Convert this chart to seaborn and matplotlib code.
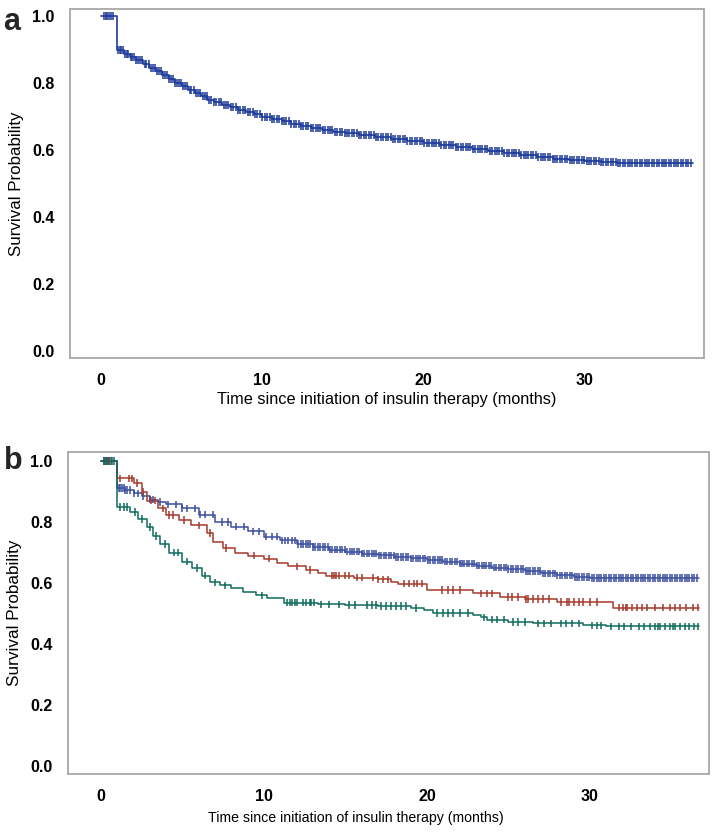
"""
Kaplan-Meier style survival curves after insulin initiation (panels a and b).
"""
import numpy as np
import pandas as pd
import matplotlib
matplotlib.use('Agg')
import matplotlib.pyplot as plt
from matplotlib import font_manager
import seaborn as sns

# Panel a: whole cohort (step times in months, survival after each step)
time_a = [0.0, 1.0, 1.4, 1.8, 2.2, 2.6, 3.0, 3.4, 3.8, 4.2, 4.6, 5.0, 5.4, 5.8, 6.2,
          6.6, 7.0, 7.5, 8.0, 8.5, 9.0, 9.5, 10.0, 10.6, 11.2, 11.8, 12.4, 13.0,
          13.7, 14.4, 15.1, 16.0, 17.0, 18.0, 19.0, 20.0, 21.0, 22.0, 23.0, 24.0,
          25.0, 26.0, 27.0, 28.0, 29.0, 30.0, 31.0, 32.0, 36.7]
surv_a = [1.000, 0.898, 0.888, 0.878, 0.868, 0.858, 0.846, 0.835, 0.824, 0.812, 0.800,
          0.790, 0.780, 0.770, 0.760, 0.750, 0.742, 0.735, 0.728, 0.720, 0.713, 0.706,
          0.700, 0.693, 0.686, 0.679, 0.672, 0.666, 0.660, 0.655, 0.650, 0.645, 0.639,
          0.633, 0.627, 0.621, 0.615, 0.610, 0.604, 0.597, 0.590, 0.584, 0.579, 0.574,
          0.570, 0.566, 0.563, 0.560, 0.560]
cens_a = [0.2, 0.3, 0.4, 0.5, 0.6, 0.75, 1.05, 1.15, 1.25, 1.35, 1.5, 1.6, 1.7, 1.85,
          1.95, 2.05, 2.2, 2.3, 2.45, 2.55, 2.7, 2.8, 2.95, 3.1, 3.2, 3.35, 3.45, 3.6,
          3.7, 3.85, 3.95, 4.1, 4.2, 4.35, 4.45, 4.6, 4.7, 4.85, 4.95, 5.1, 5.2, 5.35,
          5.5, 5.6, 5.75, 5.9, 6.0, 6.15, 6.3, 6.45, 6.55, 6.7, 6.85, 7.0, 7.15, 7.3,
          7.45, 7.6, 7.75, 7.9, 8.05, 8.2, 8.35, 8.5, 8.65, 8.8, 8.95, 9.1, 9.25, 9.4,
          9.55, 9.7, 9.85, 10.0, 10.15, 10.3, 10.45, 10.6, 10.75, 10.9, 11.05, 11.2,
          11.35, 11.5, 11.65, 11.8, 11.95, 12.1, 12.25, 12.4, 12.55, 12.7, 12.85, 13.0,
          13.15, 13.3, 13.45, 13.6, 13.75, 13.9, 14.05, 14.2, 14.35, 14.5, 14.65, 14.8,
          14.95, 15.1, 15.25, 15.4, 15.55, 15.7, 15.85, 16.0, 16.15, 16.3, 16.45, 16.6,
          16.75, 16.9, 17.05, 17.2, 17.35, 17.5, 17.65, 17.8, 17.95, 18.1, 18.25, 18.4,
          18.55, 18.7, 18.85, 19.0, 19.15, 19.3, 19.45, 19.6, 19.75, 19.9, 20.05, 20.2,
          20.35, 20.5, 20.65, 20.8, 20.95, 21.1, 21.25, 21.4, 21.55, 21.7, 21.85, 22.0,
          22.15, 22.3, 22.45, 22.6, 22.75, 22.9, 23.05, 23.2, 23.35, 23.5, 23.65, 23.8,
          23.95, 24.1, 24.25, 24.4, 24.55, 24.7, 24.85, 25.0, 25.15, 25.3, 25.45, 25.6,
          25.75, 25.9, 26.05, 26.2, 26.35, 26.5, 26.65, 26.8, 26.95, 27.1, 27.25, 27.4,
          27.55, 27.7, 27.85, 28.0, 28.15, 28.3, 28.45, 28.6, 28.75, 28.9, 29.05, 29.2,
          29.35, 29.5, 29.65, 29.8, 29.95, 30.1, 30.25, 30.4, 30.55, 30.7, 30.85, 31.0,
          31.15, 31.3, 31.45, 31.6, 31.75, 31.9, 32.05, 32.2, 32.35, 32.5, 32.65, 32.8,
          32.95, 33.1, 33.25, 33.4, 33.55, 33.7, 33.85, 34.0, 34.15, 34.3, 34.45, 34.6,
          34.75, 34.9, 35.05, 35.2, 35.35, 35.5, 35.65, 35.8, 35.95, 36.1, 36.25, 36.4,
          36.55]

# Panel b: three groups
time_b1 = [0.0, 1.0, 1.5, 2.0, 2.5, 3.0, 3.5, 4.0, 5.0, 6.0, 7.0, 8.0, 9.0, 10.0, 11.0,
           12.0, 13.0, 14.0, 15.0, 16.0, 17.0, 18.0, 19.0, 20.0, 21.0, 22.0, 23.0,
           24.0, 25.0, 26.0, 27.0, 28.0, 29.0, 30.0, 36.7]
surv_b1 = [1.000, 0.912, 0.905, 0.895, 0.885, 0.874, 0.866, 0.858, 0.845, 0.825, 0.800,
           0.785, 0.770, 0.752, 0.740, 0.728, 0.718, 0.710, 0.703, 0.697, 0.691, 0.686,
           0.681, 0.676, 0.670, 0.664, 0.657, 0.651, 0.646, 0.640, 0.632, 0.626, 0.620,
           0.617, 0.617]
cens_b1 = [0.2, 0.35, 0.5, 0.7, 1.1, 1.2, 1.3, 1.4, 1.5, 1.6, 1.8, 2.0, 2.3, 2.6, 3.0,
           3.2, 3.6, 4.1, 4.6, 5.0, 5.3, 5.8, 6.1, 6.4, 6.9, 7.4, 7.8, 8.3, 8.8, 9.3,
           9.7, 10.1, 10.5, 10.8, 11.1, 11.3, 11.5, 11.7, 11.9, 12.1, 12.25, 12.4,
           12.55, 12.7, 12.85, 13.0, 13.15, 13.3, 13.45, 13.6, 13.75, 13.9, 14.05, 14.2,
           14.35, 14.5, 14.65, 14.8, 14.95, 15.1, 15.25, 15.4, 15.55, 15.7, 15.85, 16.0,
           16.15, 16.3, 16.45, 16.6, 16.75, 16.9, 17.05, 17.2, 17.35, 17.5, 17.65, 17.8,
           17.95, 18.1, 18.25, 18.4, 18.55, 18.7, 18.85, 19.0, 19.15, 19.3, 19.45, 19.6,
           19.75, 19.9, 20.05, 20.2, 20.35, 20.5, 20.65, 20.8, 20.95, 21.1, 21.25, 21.4,
           21.55, 21.7, 21.85, 22.0, 22.15, 22.3, 22.45, 22.6, 22.75, 22.9, 23.05, 23.2,
           23.35, 23.5, 23.65, 23.8, 23.95, 24.1, 24.25, 24.4, 24.55, 24.7, 24.85, 25.0,
           25.15, 25.3, 25.45, 25.6, 25.75, 25.9, 26.05, 26.2, 26.35, 26.5, 26.65, 26.8,
           26.95, 27.1, 27.25, 27.4, 27.55, 27.7, 27.85, 28.0, 28.15, 28.3, 28.45, 28.6,
           28.75, 28.9, 29.05, 29.2, 29.35, 29.5, 29.65, 29.8, 29.95, 30.1, 30.25, 30.4,
           30.55, 30.7, 30.85, 31.0, 31.15, 31.3, 31.45, 31.6, 31.75, 31.9, 32.05, 32.2,
           32.35, 32.5, 32.65, 32.8, 32.95, 33.1, 33.25, 33.4, 33.55, 33.7, 33.85, 34.0,
           34.15, 34.3, 34.45, 34.6, 34.75, 34.9, 35.05, 35.2, 35.35, 35.5, 35.65, 35.8,
           35.95, 36.1, 36.25, 36.4, 36.55]

time_b2 = [0.0, 1.0, 2.0, 2.5, 2.8, 3.5, 4.0, 4.8, 5.5, 6.5, 6.9, 7.5, 8.2, 9.0, 10.0,
           10.8, 11.5, 12.6, 13.3, 13.8, 15.5, 17.0, 17.8, 18.2, 20.0, 22.8, 24.5,
           26.0, 28.0, 31.4, 36.7]
surv_b2 = [1.000, 0.944, 0.928, 0.900, 0.870, 0.845, 0.823, 0.807, 0.790, 0.764, 0.735,
           0.715, 0.700, 0.690, 0.680, 0.665, 0.655, 0.643, 0.633, 0.624, 0.618, 0.612,
           0.603, 0.598, 0.578, 0.567, 0.555, 0.548, 0.538, 0.520, 0.520]
cens_b2 = [0.3, 0.5, 1.2, 1.7, 1.9, 2.2, 2.6, 3.1, 3.3, 3.8, 4.2, 4.4, 5.1, 6.0, 6.7,
           7.7, 9.4, 10.3, 12.0, 12.8, 14.2, 14.3, 14.4, 14.6, 15.0, 15.2, 15.7, 16.0,
           16.7, 17.0, 17.3, 17.6, 18.6, 18.9, 19.2, 19.4, 19.7, 20.9, 21.3, 21.6, 22.0,
           23.3, 23.7, 24.0, 25.0, 25.2, 25.6, 26.1, 26.2, 26.5, 26.8, 27.1, 27.5, 28.2,
           28.6, 28.7, 29.0, 29.3, 29.6, 30.0, 30.4, 31.8, 32.0, 32.2, 32.3, 32.6, 32.9,
           33.2, 33.5, 34.0, 34.5, 34.9, 35.2, 35.5, 35.9, 36.3, 36.6]

time_b3 = [0.0, 1.0, 1.8, 2.3, 2.8, 3.2, 3.6, 4.2, 5.0, 5.6, 6.2, 6.7, 7.3, 8.0, 8.7,
           9.5, 10.2, 11.2, 13.3, 15.0, 17.0, 19.0, 19.8, 20.4, 22.8, 23.3, 23.7,
           25.0, 26.5, 29.6, 31.0, 36.7]
surv_b3 = [1.000, 0.850, 0.833, 0.810, 0.784, 0.755, 0.728, 0.700, 0.670, 0.650, 0.625,
           0.603, 0.593, 0.583, 0.572, 0.560, 0.551, 0.536, 0.530, 0.528, 0.525, 0.518,
           0.511, 0.502, 0.495, 0.488, 0.480, 0.473, 0.468, 0.462, 0.458, 0.458]
cens_b3 = [0.2, 0.3, 0.45, 0.6, 0.8, 1.2, 1.4, 1.6, 2.1, 2.5, 3.0, 3.4, 3.9, 4.5, 4.7,
           5.3, 5.9, 6.4, 7.0, 7.6, 9.9, 11.4, 11.6, 11.7, 11.9, 12.0, 12.4, 12.6, 12.8,
           12.9, 13.1, 13.5, 14.0, 14.6, 15.2, 15.6, 16.3, 16.6, 16.9, 17.2, 17.5, 17.8,
           18.1, 18.4, 18.7, 19.3, 20.6, 21.0, 21.3, 21.6, 22.0, 22.5, 23.5, 24.0, 24.3,
           24.7, 25.3, 25.6, 26.0, 26.8, 27.2, 27.6, 28.2, 28.5, 28.9, 29.3, 30.1, 30.4,
           30.7, 31.3, 31.8, 32.1, 32.5, 33.0, 33.3, 33.7, 34.0, 34.2, 34.3, 34.6, 34.9,
           35.1, 35.2, 35.5, 35.8, 36.1, 36.4, 36.6]

XLABEL = 'Time since initiation of insulin therapy (months)'
YLABEL = 'Survival Probability'
COLOR_A = '#1c3a9a'
COLORS_B = {'1': '#3c4f9e', '2': '#a53a2c', '3': '#0f6b5d'}


def pick_font(names):
    """Return the first installed font family from names."""
    for name in names:
        try:
            font_manager.findfont(name, fallback_to_default=False)
            return name
        except Exception:
            continue
    return 'DejaVu Sans'


def km_frames(group, times, surv, cens):
    """Step data and censor marks for one curve."""
    steps = pd.DataFrame({'time': times, 'surv': surv, 'group': group})
    idx = np.searchsorted(np.array(times), np.array(cens), side='right') - 1
    marks = pd.DataFrame({'time': cens, 'surv': np.array(surv)[idx], 'group': group})
    return steps, marks


def style_axes(ax, xlim, ylim, xlabel_size, ylabel_size, xlabel_pad):
    ax.set_xlim(*xlim)
    ax.set_ylim(*ylim)
    ax.set_xticks([0, 10, 20, 30])
    ax.set_yticks([0.0, 0.2, 0.4, 0.6, 0.8, 1.0])
    ax.set_yticklabels(['0.0', '0.2', '0.4', '0.6', '0.8', '1.0'])
    for s in ax.spines.values():
        s.set_visible(True)
        s.set_color('#a8a8a8')
        s.set_linewidth(1.3)
    ax.tick_params(axis='both', direction='out', length=5, width=1.2,
                   color='#a8a8a8', labelcolor='black', labelsize=11.5, pad=6)
    for lab in ax.get_xticklabels() + ax.get_yticklabels():
        lab.set_fontweight('bold')
    ax.set_xlabel(XLABEL, fontsize=xlabel_size, color='black', labelpad=xlabel_pad)
    ax.set_ylabel(YLABEL, fontsize=ylabel_size, color='black', labelpad=6)
    ax.grid(False)


sns.set_theme(style='white')
BASE_FONT = pick_font(['Liberation Sans', 'Arial'])
plt.rcParams['font.family'] = [BASE_FONT, 'DejaVu Sans']

fig = plt.figure(figsize=(7.12, 8.32), dpi=100)
ax_a = fig.add_axes([0.0983, 0.5697, 0.8904, 0.4195])
ax_b = fig.add_axes([0.0955, 0.0697, 0.9003, 0.3870])

# Panel a
steps_a, marks_a = km_frames('a', time_a, surv_a, cens_a)
sns.lineplot(data=steps_a, x='time', y='surv', ax=ax_a, color=COLOR_A,
             drawstyle='steps-post', estimator=None, sort=False, linewidth=1.2)
sns.scatterplot(data=marks_a, x='time', y='surv', ax=ax_a, color=COLOR_A,
                marker='|', s=28, linewidth=1.1, zorder=3)
style_axes(ax_a, (-1.92, 37.38), (-0.021, 1.021), 11.7, 12.2, 3)

# Panel b
frames = [km_frames('1', time_b1, surv_b1, cens_b1),
          km_frames('2', time_b2, surv_b2, cens_b2),
          km_frames('3', time_b3, surv_b3, cens_b3)]
steps_b = pd.concat([f[0] for f in frames], ignore_index=True)
marks_b = pd.concat([f[1] for f in frames], ignore_index=True)
sns.lineplot(data=steps_b, x='time', y='surv', hue='group', palette=COLORS_B, ax=ax_b,
             drawstyle='steps-post', estimator=None, sort=False, linewidth=1.1,
             legend=False)
sns.scatterplot(data=marks_b, x='time', y='surv', hue='group', palette=COLORS_B, ax=ax_b,
                marker='|', s=28, linewidth=1.1, zorder=3, legend=False)
style_axes(ax_b, (-2.02, 37.3), (-0.026, 1.030), 10.2, 12.3, 6)
# the lower panel's axis title sits left of centre in the original
ax_b.xaxis.label.set_horizontalalignment('center')
ax_b.xaxis.set_label_coords(0.449, -0.115)

fig.text(0.005, 0.992, 'a', fontsize=22, fontweight='bold', va='top', ha='left')
fig.text(0.005, 0.446, 'b', fontsize=22, fontweight='bold', va='center', ha='left')

fig.savefig('out.png', dpi=100)
plt.close(fig)
